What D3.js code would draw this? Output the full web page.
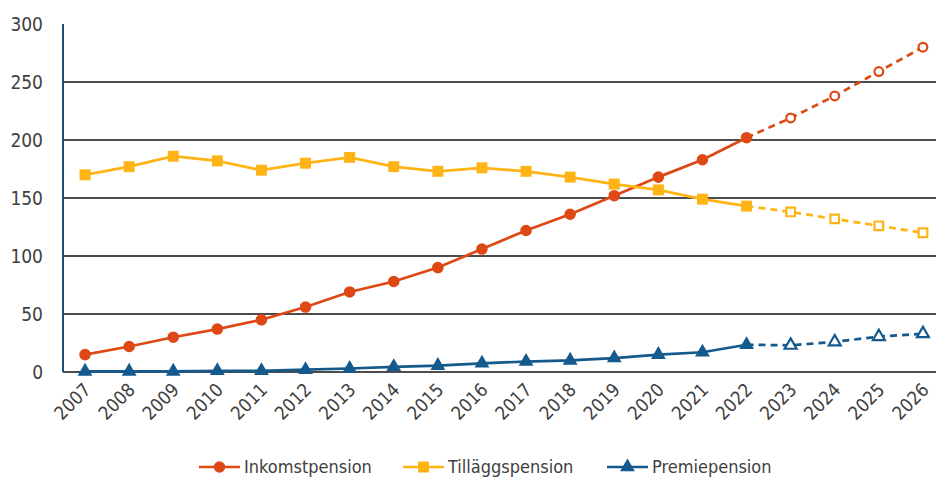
<!DOCTYPE html>
<html>
<head>
<meta charset="utf-8">
<script src="https://cdn.jsdelivr.net/npm/d3@7"></script>
<style>
  body { margin: 0; background: #fff; }
  #chart { width: 936px; height: 477px; }
  text { font-family: "DejaVu Sans Condensed", "Liberation Sans Narrow", sans-serif; }
</style>
</head>
<body>
<div id="chart"></div>
<script>
// years and series (billion SEK), 2023-2026 are projections
const years = [2007, 2008, 2009, 2010, 2011, 2012, 2013, 2014, 2015, 2016,
               2017, 2018, 2019, 2020, 2021, 2022, 2023, 2024, 2025, 2026];
const inkomstpension = [15, 22, 30, 37, 45, 56, 69, 78, 90, 106,
                        122, 136, 152, 168, 183, 202, 219, 238, 259, 280];
const tillaggspension = [170, 177, 186, 182, 174, 180, 185, 177, 173, 176,
                         173, 168, 162, 157, 149, 143, 138, 132, 126, 120];
const premiepension = [0.5, 0.5, 0.5, 1, 1, 2, 3, 4.5, 5.5, 7.5,
                       9, 10, 12, 15, 17, 23.5, 23, 26, 30.5, 33];
const lastActual = 2022;
const yTicks = [0, 50, 100, 150, 200, 250, 300];

const series = [
  {name: "Inkomstpension", values: inkomstpension, color: "#dd4814", shape: "circle"},
  {name: "Tilläggspension", values: tillaggspension, color: "#fdb414", shape: "square"},
  {name: "Premiepension", values: premiepension, color: "#145a8c", shape: "triangle"}
];

const W = 936, H = 477;
const margin = {top: 24, right: -9, bottom: 105, left: 63};

const svg = d3.select("#chart").append("svg")
  .attr("width", W).attr("height", H);

const x = d3.scaleBand()
  .domain(years)
  .range([margin.left, W - margin.right]);

const y = d3.scaleLinear()
  .domain([0, 300])
  .range([H - margin.bottom, margin.top]);

const cx = d => x(d) + x.bandwidth() / 2;

// grid lines
svg.append("g").selectAll("line")
  .data(yTicks.filter(t => t < 300))
  .join("line")
  .attr("x1", margin.left).attr("x2", W)
  .attr("y1", d => y(d)).attr("y2", d => y(d))
  .attr("stroke", "#111").attr("stroke-width", 1.5);

// y axis labels
svg.append("g").selectAll("text")
  .data(yTicks)
  .join("text")
  .attr("x", 43).attr("y", d => y(d))
  .attr("dy", "0.36em")
  .attr("text-anchor", "end")
  .attr("fill", "#404040")
  .attr("font-size", 19)
  .text(d => d);

// y axis line
svg.append("line")
  .attr("x1", margin.left).attr("x2", margin.left)
  .attr("y1", y(300)).attr("y2", y(0))
  .attr("stroke", "#1f4e79").attr("stroke-width", 2);

// x labels, rotated
svg.append("g").selectAll("text")
  .data(years)
  .join("text")
  .attr("transform", d => "translate(" + (cx(d) + 7) + "," + (y(0) + 19) + ") rotate(-45)")
  .attr("text-anchor", "end")
  .attr("fill", "#404040")
  .attr("font-size", 18.5)
  .text(d => d);

const line = d3.line()
  .x(d => cx(d.year))
  .y(d => y(d.value));

const symbolFor = shape => {
  if (shape === "circle") return d3.symbol(d3.symbolCircle, 105);
  if (shape === "square") return d3.symbol(d3.symbolSquare, 120);
  return d3.symbol(d3.symbolTriangle, 95);
};

series.forEach(s => {
  const pts = years.map((yr, i) => ({year: yr, value: s.values[i]}));
  const actual = pts.filter(p => p.year <= lastActual);
  const proj = pts.filter(p => p.year >= lastActual);

  svg.append("path")
    .datum(actual)
    .attr("fill", "none")
    .attr("stroke", s.color)
    .attr("stroke-width", 2.7)
    .attr("d", line);

  svg.append("path")
    .datum(proj)
    .attr("fill", "none")
    .attr("stroke", s.color)
    .attr("stroke-width", 2.7)
    .attr("stroke-dasharray", "7,5")
    .attr("d", line);

  const hollowSymbol = s.shape === "circle" ? d3.symbol(d3.symbolCircle, 60)
    : s.shape === "square" ? d3.symbol(d3.symbolSquare, 75)
    : d3.symbol(d3.symbolTriangle, 62);

  svg.append("g").selectAll("path")
    .data(pts)
    .join("path")
    .attr("transform", d => "translate(" + cx(d.year) + "," + y(d.value) + ")")
    .attr("d", d => d.year <= lastActual ? symbolFor(s.shape)() : hollowSymbol())
    .attr("fill", d => d.year <= lastActual ? s.color : "#fff")
    .attr("stroke", s.color)
    .attr("stroke-width", d => d.year <= lastActual ? 0 : 2.2);
});

// legend
const legendX = [199, 403, 607];
const legend = svg.append("g");
series.forEach((s, i) => {
  const g = legend.append("g").attr("transform", "translate(" + legendX[i] + ",467)");
  g.append("line")
    .attr("x1", 0).attr("x2", 41)
    .attr("stroke", s.color).attr("stroke-width", 2.7);
  g.append("path")
    .attr("transform", "translate(20.5,0)")
    .attr("d", symbolFor(s.shape)())
    .attr("fill", s.color);
  g.append("text")
    .attr("x", 45).attr("y", 0).attr("dy", "0.35em")
    .attr("fill", "#404040")
    .attr("font-size", 18)
    .text(s.name);
});
</script>
</body>
</html>
